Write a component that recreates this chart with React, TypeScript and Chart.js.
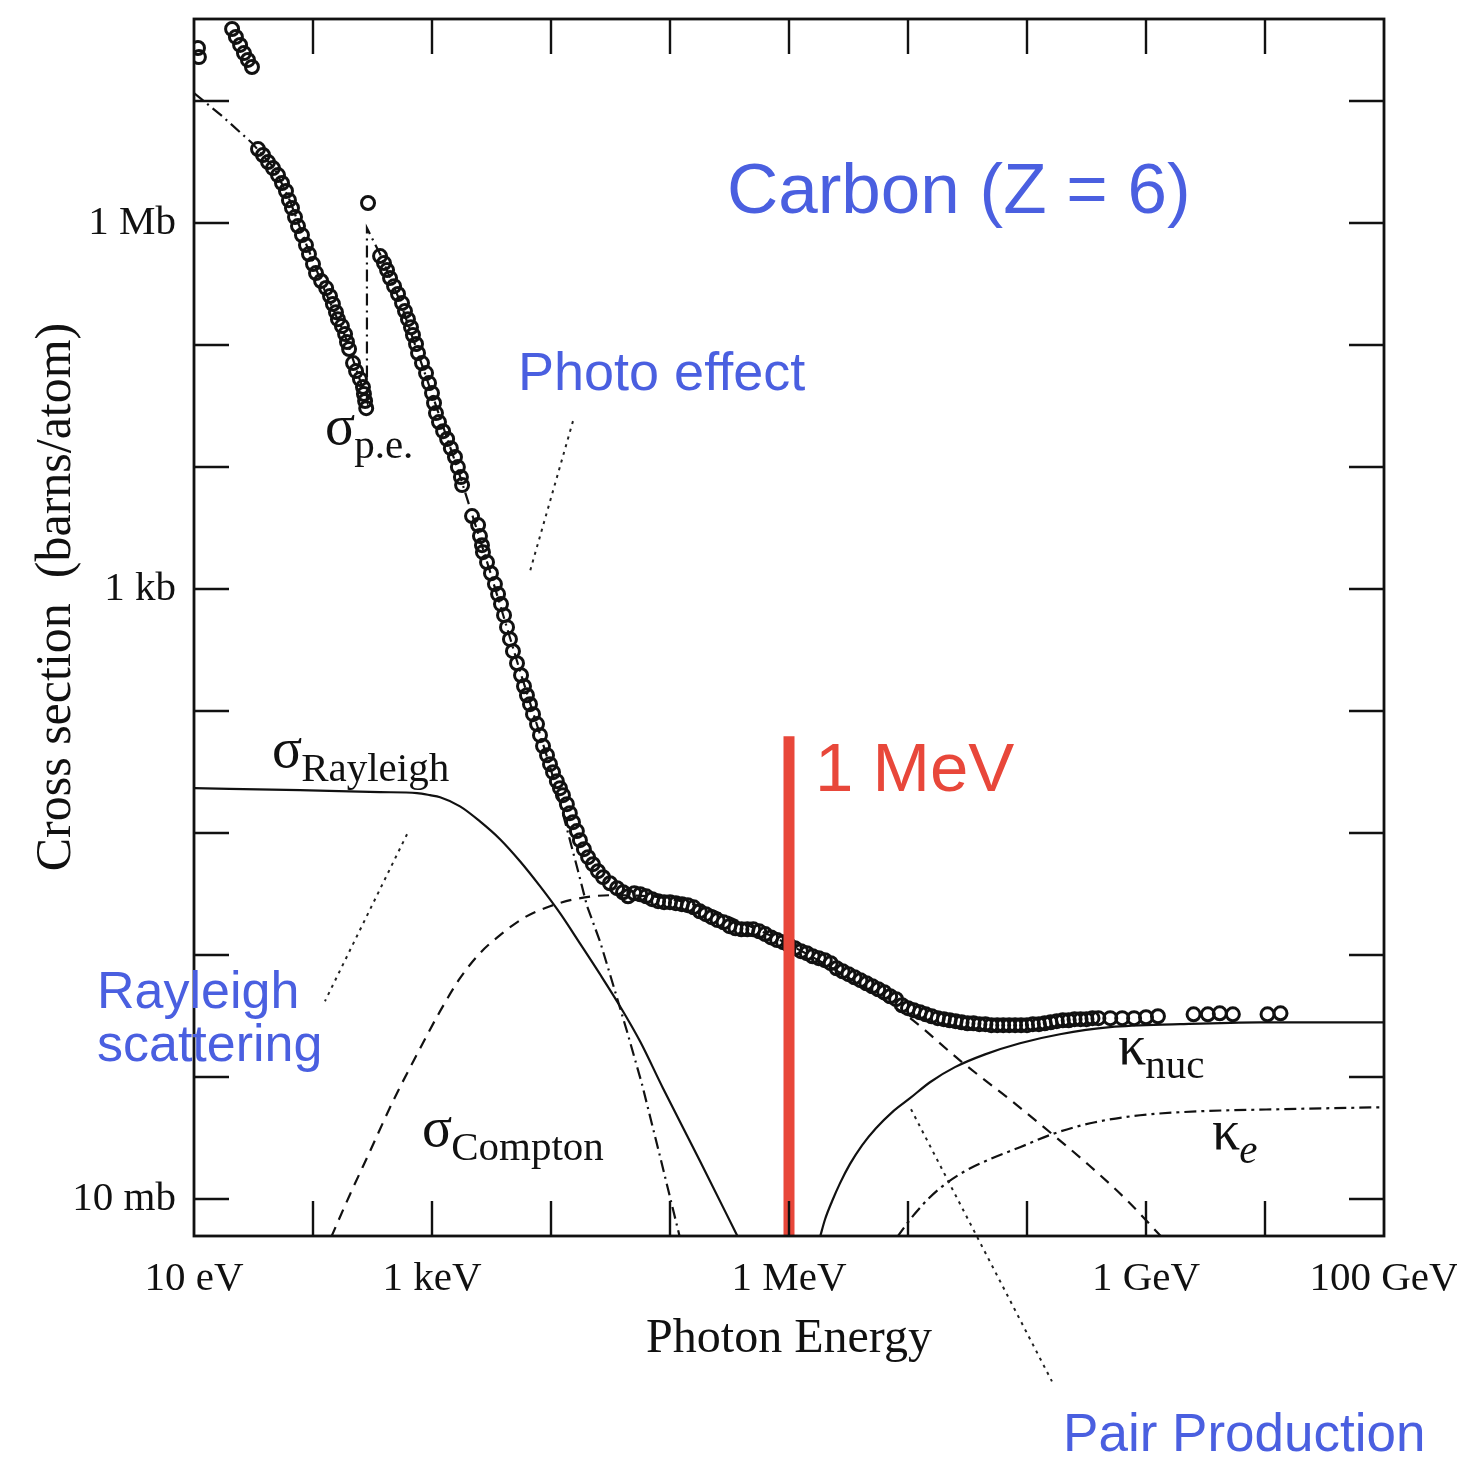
import React, { useEffect, useRef } from 'react';
import { Chart, registerables } from 'chart.js';

Chart.register(...registerables);

type Pt = [number, number];

// Photon energy in eV, cross section in barns per atom.
const xTickValues = [1e1, 1e2, 1e3, 1e4, 1e5, 1e6, 1e7, 1e8, 1e9, 1e10, 1e11];
const xTickLabels = ['10 eV', '', '1 keV', '', '', '1 MeV', '', '', '1 GeV', '', '100 GeV'];
const yTickValues = [1e-2, 1e-1, 1, 1e1, 1e2, 1e3, 1e4, 1e5, 1e6, 1e7];
const yTickLabels = ['10 mb', '', '', '', '', '1 kb', '', '', '1 Mb', ''];

// Measured total cross section (open circles)
const measured: Pt[] = [
  [10.8, 2.72e7], [11.0, 2.29e7],
  [20.9, 3.89e7], [22.5, 3.35e7], [24.4, 2.88e7], [26.3, 2.47e7], [28.4, 2.17e7], [30.7, 1.9e7],
  [34.5, 4.04e6], [38.0, 3.61e6], [41.9, 3.16e6], [46.1, 2.82e6], [50.8, 2.47e6], [54.9, 2.13e6],
  [59.3, 1.83e6], [62.8, 1.54e6], [66.6, 1.33e6], [70.6, 1.12e6], [74.8, 9.45e5], [80.8, 7.97e5],
  [87.3, 6.6e5], [92.5, 5.57e5], [100, 4.61e5], [106, 3.89e5], [117, 3.35e5], [129, 2.93e5],
  [139, 2.52e5], [147, 2.17e5], [156, 1.86e5], [162, 1.63e5], [175, 1.43e5], [186, 1.23e5],
  [193, 1.06e5], [201, 9.27e4], [217, 7.12e4], [230, 6.12e4], [248, 5.26e4], [263, 4.53e4],
  [268, 3.97e4], [274, 3.48e4], [280, 3.04e4],
  [290, 1.46e6],
  [366, 5.36e5], [395, 4.7e5], [419, 4.12e5], [444, 3.54e5], [480, 3.04e5], [518, 2.62e5],
  [560, 2.21e5], [593, 1.9e5], [628, 1.63e5], [666, 1.4e5], [692, 1.21e5], [734, 1.02e5],
  [763, 8.6e4], [824, 7.12e4], [891, 5.89e4], [944, 4.88e4], [1000, 4.04e4], [1040, 3.35e4],
  [1080, 2.77e4], [1145, 2.34e4], [1240, 1.97e4], [1340, 1.7e4], [1440, 1.43e4], [1560, 1.21e4],
  [1650, 1.0e4], [1750, 8.28e3], [1790, 7.12e3],
  [2170, 3.97e3], [2440, 3.35e3], [2530, 2.72e3], [2630, 2.29e3], [2680, 2.01e3], [2900, 1.66e3],
  [3130, 1.35e3], [3380, 1.1e3], [3590, 910], [3800, 754], [4030, 612], [4270, 488], [4520, 389],
  [4790, 310], [5180, 247], [5600, 197], [5930, 160], [6280, 135], [6660, 114], [7060, 94.5],
  [7630, 78.3], [8080, 63.6], [8570, 51.7], [9260, 43.6], [9810, 36.8], [1.04e4, 31.6],
  [1.12e4, 26.7], [1.19e4, 23.4], [1.26e4, 20.5], [1.36e4, 17.3], [1.44e4, 14.6], [1.53e4, 12.3],
  [1.65e4, 10.4], [1.75e4, 8.76], [1.89e4, 7.39], [2.05e4, 6.36], [2.25e4, 5.57], [2.48e4, 4.88],
  [2.74e4, 4.36], [3.13e4, 3.89], [3.59e4, 3.54], [4.03e4, 3.28], [4.44e4, 3.04],
  [5.01e4, 3.22], [5.62e4, 3.16], [6.31e4, 3.04], [7.08e4, 2.88], [7.94e4, 2.77], [8.91e4, 2.72],
  [1.0e5, 2.72], [1.12e5, 2.67], [1.26e5, 2.62], [1.41e5, 2.57], [1.58e5, 2.47], [1.78e5, 2.29],
  [2.0e5, 2.17], [2.24e5, 2.05], [2.51e5, 1.94], [2.82e5, 1.86], [3.16e5, 1.73], [3.55e5, 1.66],
  [3.98e5, 1.63], [4.47e5, 1.63], [5.01e5, 1.63], [5.62e5, 1.57], [6.31e5, 1.49], [7.08e5, 1.4],
  [7.94e5, 1.33], [8.91e5, 1.28], [1.0e6, 1.21], [1.12e6, 1.14], [1.26e6, 1.08], [1.41e6, 1.04],
  [1.58e6, 0.981], [1.78e6, 0.945], [2.0e6, 0.91], [2.24e6, 0.86], [2.51e6, 0.782], [2.82e6, 0.739],
  [3.16e6, 0.699], [3.55e6, 0.66], [3.98e6, 0.624], [4.47e6, 0.589], [5.01e6, 0.557], [5.62e6, 0.526],
  [6.31e6, 0.497], [7.08e6, 0.461], [7.94e6, 0.436], [8.91e6, 0.389], [1.0e7, 0.368], [1.12e7, 0.354],
  [1.26e7, 0.341], [1.41e7, 0.328], [1.58e7, 0.316], [1.78e7, 0.305], [2.0e7, 0.299], [2.24e7, 0.293],
  [2.51e7, 0.288], [2.82e7, 0.282], [3.16e7, 0.277], [3.55e7, 0.277], [3.98e7, 0.272], [4.47e7, 0.272],
  [5.01e7, 0.267], [5.62e7, 0.267], [6.31e7, 0.267], [7.08e7, 0.267], [7.94e7, 0.267], [8.91e7, 0.267],
  [1.0e8, 0.267], [1.12e8, 0.272], [1.26e8, 0.272], [1.41e8, 0.277], [1.58e8, 0.282], [1.78e8, 0.288],
  [2.0e8, 0.293], [2.24e8, 0.293], [2.51e8, 0.299], [2.82e8, 0.299], [3.16e8, 0.299], [3.55e8, 0.305],
  [3.98e8, 0.305], [5.01e8, 0.305], [6.31e8, 0.305], [7.94e8, 0.305], [1.0e9, 0.31], [1.26e9, 0.316],
  [2.51e9, 0.328], [3.31e9, 0.328], [4.17e9, 0.334], [5.37e9, 0.328], [1.05e10, 0.328], [1.35e10, 0.334],
];

// Photoelectric absorption, with the carbon K edge
const photoEffect: Pt[] = [
  [10, 1.16e7], [17.2, 7.54e6], [30.7, 4.53e6], [47.9, 2.77e6], [64.1, 1.52e6], [85.7, 7.12e5],
  [126, 2.77e5], [186, 1.19e5], [284, 3.5e4], [284, 9.1e5], [366, 5.57e5], [538, 2.29e5],
  [962, 4.44e4], [1720, 8.44e3], [3070, 1.4e3], [5490, 213], [9810, 35.4], [1.31e4, 12.5],
  [1.69e4, 4.88], [2.01e4, 2.52], [2.58e4, 1.3], [3.13e4, 0.699], [4.35e4, 0.238], [5.82e4, 0.0876],
  [8.24e4, 0.0225], [1.21e5, 0.00488],
];

// Coherent (Rayleigh) scattering
const rayleigh: Pt[] = [
  [10, 23.4], [77.8, 22.5], [366, 21.7], [748, 21.3], [962, 20.5], [1170, 19.7], [1720, 16.6],
  [2530, 12.5], [3730, 8.93], [5490, 5.89], [8080, 3.68], [1.19e4, 2.21], [1.75e4, 1.25],
  [2.58e4, 0.699], [3.8e4, 0.382], [5.6e4, 0.197], [8.73e4, 0.0813], [1.79e5, 0.0205],
  [3.73e5, 0.00488],
];

// Incoherent (Compton) scattering
const compton: Pt[] = [
  [142, 0.00488], [205, 0.011], [301, 0.0247], [470, 0.0636], [748, 0.154], [1170, 0.348],
  [1720, 0.648], [2530, 1.04], [3730, 1.46], [6050, 2.05], [9810, 2.52], [1.59e4, 2.88],
  [3.13e4, 3.1], [6.79e4, 3.04], [1.79e5, 2.52], [4.7e5, 1.73], [1.02e6, 1.21], [3.01e6, 0.673],
  [1.04e7, 0.305], [2.79e7, 0.135], [7.48e7, 0.0636], [1.56e8, 0.0354], [3.32e8, 0.019],
  [6.92e8, 0.00981], [1.36e9, 0.00488],
];

// Pair production in the nuclear field
const kappaNuc: Pt[] = [
  [1.82e6, 0.00488], [2.01e6, 0.00686], [2.3e6, 0.00963], [2.68e6, 0.0135], [3.25e6, 0.0194],
  [4.11e6, 0.0277], [5.38e6, 0.0382], [7.34e6, 0.0516], [1.04e7, 0.0673], [1.53e7, 0.091],
  [2.48e7, 0.121], [4.44e7, 0.154], [8.73e7, 0.19], [1.89e8, 0.225], [4.98e8, 0.257],
  [1.93e9, 0.272], [9.08e9, 0.282], [1e11, 0.282],
];

// Pair production in the electron field
const kappaE: Pt[] = [
  [8.08e6, 0.00488], [9.44e6, 0.00601], [1.15e7, 0.00768], [1.47e7, 0.01], [2.05e7, 0.0133],
  [3.01e7, 0.017], [4.89e7, 0.0213], [8.73e7, 0.0267], [1.72e8, 0.0348], [3.73e8, 0.0428],
  [8.91e8, 0.0488], [2.84e9, 0.0526], [1.34e10, 0.0547], [1e11, 0.0568],
];

// Highlighted energy
const markerEnergy = 1e6;
const markerRange: [number, number] = [62.4, 0.004];

const SERIF = '"Liberation Serif", "Times New Roman", serif';
const SANS = '"Liberation Sans", Arial, Helvetica, sans-serif';
const BLUE = '#4a5fe0';
const RED = '#e8473a';
const INK = '#111111';

type Note = { text: string; at: Pt; size: number; color: string };
const notes: Note[] = [
  { text: 'Carbon (Z = 6)', at: [3.01e5, 1.21e6], size: 71, color: BLUE },
  { text: 'Photo effect', at: [5.28e3, 4.28e4], size: 54, color: BLUE },
  { text: 'Rayleigh', at: [1.53, 0.368], size: 52, color: BLUE },
  { text: 'scattering', at: [1.53, 0.135], size: 52, color: BLUE },
  { text: 'Pair Production', at: [2.01e8, 8.6e-5], size: 53, color: BLUE },
  { text: '1 MeV', at: [1.65e6, 22.1], size: 69, color: RED },
];

type Symbol = { main: string; sub: string; at: Pt; italicSub?: boolean };
const symbols: Symbol[] = [
  { main: 'σ', sub: 'p.e.', at: [126, 1.54e4] },
  { main: 'σ', sub: 'Rayleigh', at: [45.2, 34.8] },
  { main: 'σ', sub: 'Compton', at: [824, 0.0272] },
  { main: 'κ', sub: 'nuc', at: [5.82e8, 0.128] },
  { main: 'κ', sub: 'e', at: [3.59e9, 0.0257], italicSub: true },
];

const pointers: [Pt, Pt][] = [
  [[1.53e4, 2.38e4], [6.66e3, 1.4e3]],
  [[617, 9.81], [126, 0.42]],
  [[1.06e7, 0.0547], [1.62e8, 3.22e-4]],
];

const TICK_LEN = 35;

const decorations = {
  id: 'decorations',
  afterDatasetsDraw(chart: any) {
    const { ctx, chartArea, scales } = chart;
    const xs = scales.x;
    const ys = scales.y;
    const { left, right, top, bottom } = chartArea;
    ctx.save();
    ctx.strokeStyle = INK;
    ctx.lineWidth = 2.8;
    ctx.strokeRect(left, top, right - left, bottom - top);
    ctx.lineWidth = 2.4;
    ctx.beginPath();
    for (const t of xs.ticks) {
      const px = Math.round(xs.getPixelForValue(t.value));
      if (px <= left + 2 || px >= right - 2) continue;
      ctx.moveTo(px, bottom);
      ctx.lineTo(px, bottom - TICK_LEN);
      ctx.moveTo(px, top);
      ctx.lineTo(px, top + TICK_LEN);
    }
    for (const t of ys.ticks) {
      const py = Math.round(ys.getPixelForValue(t.value));
      if (py <= top + 2 || py >= bottom - 2) continue;
      ctx.moveTo(left, py);
      ctx.lineTo(left + TICK_LEN, py);
      ctx.moveTo(right, py);
      ctx.lineTo(right - TICK_LEN, py);
    }
    ctx.stroke();
    ctx.restore();
  },
  afterDraw(chart: any) {
    const { ctx, chartArea, scales } = chart;
    const xs = scales.x;
    const ys = scales.y;
    const px = (p: Pt) => [xs.getPixelForValue(p[0]), ys.getPixelForValue(p[1])];
    ctx.save();

    // dotted pointer lines
    ctx.strokeStyle = '#222';
    ctx.lineWidth = 2;
    ctx.setLineDash([3, 5]);
    for (const [a, b] of pointers) {
      const [x1, y1] = px(a);
      const [x2, y2] = px(b);
      ctx.beginPath();
      ctx.moveTo(x1, y1);
      ctx.lineTo(x2, y2);
      ctx.stroke();
    }
    ctx.setLineDash([]);

    ctx.textAlign = 'left';
    ctx.textBaseline = 'alphabetic';
    for (const n of notes) {
      const [x, y] = px(n.at);
      ctx.font = `${n.size}px ${SANS}`;
      ctx.fillStyle = n.color;
      ctx.fillText(n.text, x, y);
    }

    ctx.fillStyle = INK;
    for (const s of symbols) {
      const [x, y] = px(s.at);
      ctx.font = `56px ${SERIF}`;
      ctx.fillText(s.main, x, y);
      const w = ctx.measureText(s.main).width;
      ctx.font = `${s.italicSub ? 'italic ' : ''}41px ${SERIF}`;
      ctx.fillText(s.sub, x + w - 1, y + 14);
    }

    // axis titles
    ctx.font = `48px ${SERIF}`;
    ctx.textAlign = 'center';
    ctx.fillText('Photon Energy', (chartArea.left + chartArea.right) / 2, chartArea.bottom + 116);
    ctx.save();
    ctx.font = `50px ${SERIF}`;
    ctx.translate(chartArea.left - 124, chartArea.top + 578);
    ctx.rotate(-Math.PI / 2);
    ctx.fillText('Cross section  (barns/atom)', 0, 0);
    ctx.restore();

    ctx.restore();
  },
};

const toXY = (pts: Pt[]) => pts.map(([x, y]) => ({ x, y }));

const curve = (pts: Pt[], dash: number[], smooth = true) => ({
  data: toXY(pts),
  showLine: true,
  borderColor: INK,
  borderWidth: 2.2,
  borderDash: dash,
  pointRadius: 0,
  fill: false,
  clip: 0,
  tension: 0,
  cubicInterpolationMode: smooth ? ('monotone' as const) : ('default' as const),
});

export default function App() {
  const canvasRef = useRef<HTMLCanvasElement | null>(null);

  useEffect(() => {
    document.body.style.margin = '0';
    const canvas = canvasRef.current;
    if (!canvas) return;

    const chart = new Chart(canvas, {
      type: 'scatter',
      data: {
        datasets: [
          {
            data: [
              { x: markerEnergy, y: markerRange[0] },
              { x: markerEnergy, y: markerRange[1] },
            ],
            showLine: true,
            borderColor: RED,
            borderWidth: 11,
            pointRadius: 0,
            clip: 0,
          } as any,
          {
            data: toXY(measured),
            showLine: false,
            pointStyle: 'circle',
            pointRadius: 6.5,
            borderWidth: 3,
            borderColor: INK,
            backgroundColor: 'rgba(255,255,255,0)',
          } as any,
          curve(photoEffect, [12, 5, 2, 5], false) as any,
          curve(rayleigh, []) as any,
          curve(compton, [11, 8]) as any,
          curve(kappaNuc, []) as any,
          curve(kappaE, [12, 5, 3, 5]) as any,
        ],
      },
      options: {
        responsive: false,
        animation: false,
        devicePixelRatio: 1,
        events: [],
        layout: { padding: { top: 19, right: 73, left: 0, bottom: 0 } },
        plugins: { legend: { display: false }, tooltip: { enabled: false } },
        scales: {
          x: {
            type: 'logarithmic',
            position: 'bottom',
            min: 10,
            max: 1e11,
            grid: { display: false },
            border: { display: false },
            afterBuildTicks: (s: any) => {
              s.ticks = xTickValues.map((v) => ({ value: v }));
            },
            afterFit: (s: any) => {
              s.height = 222;
              s.paddingLeft = 0;
              s.paddingRight = 0;
            },
            ticks: {
              autoSkip: false,
              maxRotation: 0,
              minRotation: 0,
              padding: 11,
              color: INK,
              font: { family: SERIF, size: 41 },
              callback: (_v: any, i: number) => xTickLabels[i],
            },
          },
          y: {
            type: 'logarithmic',
            position: 'left',
            min: 0.005,
            max: 4.7e7,
            grid: { display: false },
            border: { display: false },
            afterBuildTicks: (s: any) => {
              s.ticks = yTickValues.map((v) => ({ value: v }));
            },
            afterFit: (s: any) => {
              s.width = 194;
              s.paddingTop = 0;
              s.paddingBottom = 0;
            },
            ticks: {
              autoSkip: false,
              padding: 10,
              color: INK,
              font: { family: SERIF, size: 41 },
              callback: (_v: any, i: number) => yTickLabels[i],
            },
          },
        },
      } as any,
      plugins: [decorations],
    });

    return () => chart.destroy();
  }, []);

  return (
    <div style={{ width: 1457, height: 1458, background: '#fff' }}>
      <canvas ref={canvasRef} width={1457} height={1458} style={{ display: 'block' }} />
    </div>
  );
}
